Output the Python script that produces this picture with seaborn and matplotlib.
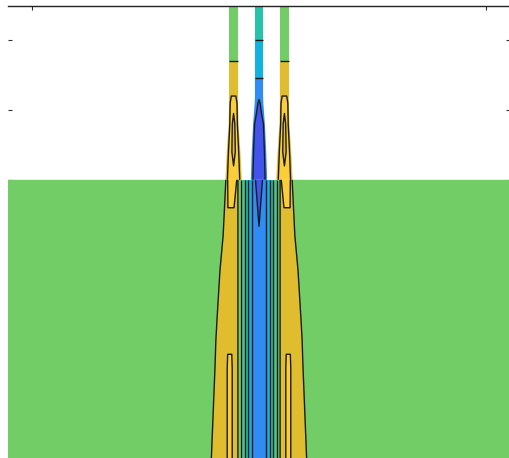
import numpy as np
import matplotlib
matplotlib.use("Agg")
import matplotlib.pyplot as plt
import seaborn as sns

sns.set_style("white")

# Colour bands, lowest value first (parula-like)
band_colors = sns.color_palette([
    "#4254ec",  # 0 deep blue
    "#2e8cf4",  # 1 blue
    "#12b2e0",  # 2 cyan
    "#26c2aa",  # 3 teal
    "#4cc78c",  # 4 teal-green
    "#73cd66",  # 5 green (background)
    "#dfbd2e",  # 6 yellow
    "#fbcd38",  # 7 bright yellow
])
levels = np.arange(len(band_colors) + 1)

centre_x = 50.0

# ---- Lower body: profile symmetric about centre_x, one entry per row
body_y = [0, 13, 17, 20, 27, 32, 40]
body_outer_edge = [10.5, 9.7, 9.5, 9.25, 8.6, 7.9, 7.3]
body_core_value = [1.5, 1.5, 1.5, 1.5, 1.5, 1.1, 0.5]
body_streak_value = [7.5, 7.5, 6.5, 6.5, 6.5, 6.5, 7.5]
body_streak_in = [5.9, 5.9, 5.9, 5.9, 5.9, 5.9, 4.9]
body_streak_out = [7.0, 7.0, 7.0, 7.0, 7.0, 7.0, 6.9]
# fixed inner stripes: offset from centre and band value
stripe_offsets = [1.55, 1.75, 2.3, 2.5, 3.0, 3.2, 3.9, 4.1, 4.55, 4.75]
stripe_values = [1.5, 2.5, 2.5, 3.5, 3.5, 4.5, 4.5, 5.5, 5.5, 6.5]
far_offset = 60.0

# ---- Upper columns (two side columns and the central one)
side_columns_x = [44.4, 55.6]
side_y = [40, 44, 48, 51, 53, 56.6, 57.4, 66]
side_half_width = [1.8, 1.5, 1.1, 1.0, 1.0, 1.0, 1.0, 1.0]
side_edge = [6.5, 6.5, 6.5, 6.5, 6.5, 6.5, 5.5, 5.5]
side_inner = [7.5, 7.5, 7.5, 7.5, 6.5, 6.5, 5.5, 5.5]
side_centre = [7.5, 6.5, 6.5, 7.5, 6.5, 6.5, 5.5, 5.5]

mid_y = [40, 44, 48, 51, 52, 54.3, 54.9, 59.7, 60.3, 66]
mid_half_width = [1.8, 1.6, 1.3, 0.95, 0.9, 0.9, 0.9, 0.9, 0.9, 0.9]
mid_edge = [1.5, 1.5, 1.5, 1.5, 1.5, 1.5, 2.5, 2.5, 3.5, 3.5]
mid_inner = [0.5, 0.5, 0.5, 1.5, 1.5, 1.5, 2.5, 2.5, 3.5, 3.5]
mid_centre = [0.5, 0.5, 0.5, 0.5, 1.5, 1.5, 2.5, 2.5, 3.5, 3.5]


def body_grid():
    X, Y, Z = [], [], []
    for i, y in enumerate(body_y):
        e = body_outer_edge[i]
        s_in, s_out, sv = body_streak_in[i], body_streak_out[i], body_streak_value[i]
        d = [0.0] + stripe_offsets + [s_in - 0.1, s_in + 0.1, s_out - 0.1, s_out + 0.1,
                                      e - 0.1, e + 0.1, far_offset]
        v = [body_core_value[i]] + stripe_values + [6.5, sv, sv, 6.5, 6.5, 5.5, 5.5]
        d = np.array(d)
        v = np.array(v)
        xs = np.concatenate([centre_x - d[:0:-1], centre_x + d])
        vs = np.concatenate([v[:0:-1], v])
        X.append(xs)
        Y.append(np.full_like(xs, y))
        Z.append(vs)
    return np.array(X), np.array(Y), np.array(Z)


def column_grid(cx, ys, hw, edge, inner, centre):
    frac = np.array([-1.0, -0.5, 0.0, 0.5, 1.0])
    X = np.array([cx + frac * w for w in hw])
    Y = np.array([[y] * len(frac) for y in ys], dtype=float)
    Z = np.array([[e, n, c, n, e] for e, n, c in zip(edge, inner, centre)])
    return X, Y, Z


fig = plt.figure(figsize=(5.09, 4.58), dpi=100)
ax = fig.add_axes([8 / 509, -1 / 458, 502 / 509, 453 / 458])

grids = [body_grid()]
for cx in side_columns_x:
    grids.append(column_grid(cx, side_y, side_half_width, side_edge, side_inner, side_centre))
grids.append(column_grid(centre_x, mid_y, mid_half_width, mid_edge, mid_inner, mid_centre))

for X, Y, Z in grids:
    ax.contourf(X, Y, Z, levels=levels, colors=band_colors, antialiased=True)
    ax.contour(X, Y, Z, levels=levels[1:-1], colors="#1a1a1a", linewidths=1.0)

ax.set_xlim(-5.29, 105.29)
ax.set_ylim(0, 64.9)
ax.set_xticks([0, 100])
ax.set_yticks(np.arange(0, 61, 10))
ax.tick_params(direction="in", length=3, width=0.8, colors="#333333",
               left=True, bottom=True, top=True, right=True,
               labelbottom=False, labelleft=False)
for side in ["left", "right", "bottom"]:
    ax.spines[side].set_visible(False)
ax.spines["top"].set_color("#222222")
ax.spines["top"].set_linewidth(1.0)

fig.savefig("out.png", dpi=100)
